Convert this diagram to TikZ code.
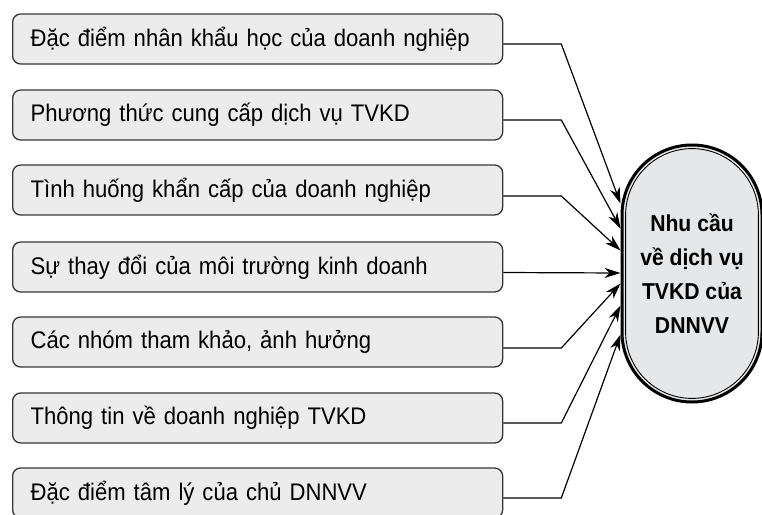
\documentclass[tikz,border=0pt]{standalone}
\usepackage{fontspec}
\setmainfont{Liberation Sans}[FakeStretch=0.92]
\usetikzlibrary{arrows.meta}
\definecolor{boxfill}{RGB}{236,236,236}
\definecolor{ovalfill}{RGB}{230,231,232}
\definecolor{boxline}{RGB}{55,55,55}
\tikzset{
  factor/.style={draw=boxline, line width=1.3pt, fill=boxfill, rounded corners=8pt,
    anchor=west, minimum width=490pt, minimum height=50pt, inner xsep=18pt,
    text width=454pt, align=left, font=\fontsize{24}{28}\selectfont},
  need/.style={draw=black, line width=3pt, fill=ovalfill, rounded corners=69.9pt,
    minimum width=140pt, minimum height=257pt, outer sep=0pt, inner sep=0pt,
    align=center, font=\bfseries\fontsize{23}{34}\selectfont},
  link/.style={line width=1.2pt, -{Stealth[length=16pt,width=10pt,inset=5pt]}},
}
\begin{document}
\begin{tikzpicture}[x=1pt,y=-1pt]
\clip (0,0) rectangle (762,514);
\fill[white] (0,0) rectangle (762,514);
\node[factor] (b1) at (12,39) {Đặc điểm nhân khẩu học của doanh nghiệp};
\node[factor] (b2) at (12,115) {Phương thức cung cấp dịch vụ TVKD};
\node[factor] (b3) at (12,190) {Tình huống khẩn cấp của doanh nghiệp};
\node[factor] (b4) at (12,267) {Sự thay đổi của môi trường kinh doanh};
\node[factor] (b5) at (12,342) {Các nhóm tham khảo, ảnh hưởng};
\node[factor] (b6) at (12,418) {Thông tin về doanh nghiệp TVKD};
\node[factor] (b7) at (12,493) {Đặc điểm tâm lý của chủ DNNVV};
\node[need] (el) at (692,273.5) {Nhu cầu\\về dịch vụ\\TVKD của\\DNNVV};
\draw[line width=0.9pt, rounded corners=66.4pt]
  ([xshift=3.6pt,yshift=3.6pt]el.south west) rectangle ([xshift=-3.6pt,yshift=-3.6pt]el.north east);
\draw[link] ([yshift=-5pt]b1.east) -- ++(58,0) -- ([xshift=-1.5pt,yshift=70pt]el.west);
\draw[link] ([yshift=-5pt]b2.east) -- ++(58,0) -- ([xshift=-1.5pt,yshift=45pt]el.west);
\draw[link] ([yshift=-6pt]b3.east) -- ++(58,0) -- ([xshift=-1.5pt,yshift=23pt]el.west);
\draw[link] ([yshift=-5.5pt]b4.east) -- ([xshift=-1.5pt,yshift=0.5pt]el.west);
\draw[link] ([yshift=-6pt]b5.east) -- ++(58,0) -- ([xshift=-1.5pt,yshift=-10pt]el.west);
\draw[link] ([yshift=-5pt]b6.east) -- ++(58,0) -- ([xshift=-1.5pt,yshift=-32pt]el.west);
\draw[link] ([yshift=-5pt]b7.east) -- ++(58,0) -- ([xshift=-1.5pt,yshift=-61pt]el.west);
\end{tikzpicture}
\end{document}
